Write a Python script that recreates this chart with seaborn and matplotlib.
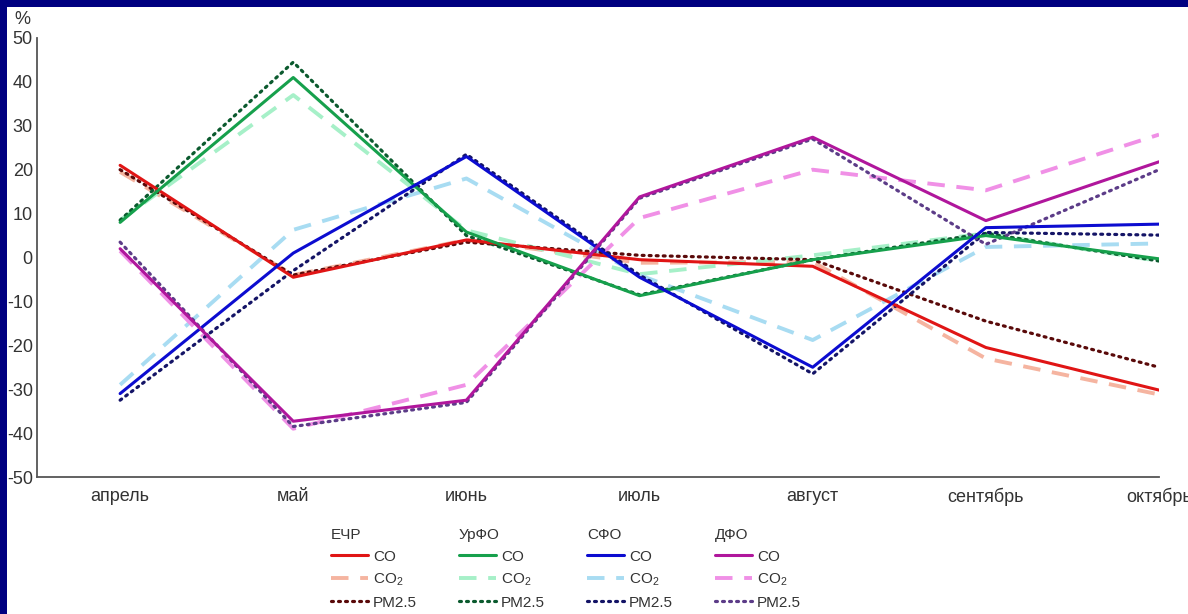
import numpy as np
import pandas as pd
import matplotlib
matplotlib.use("Agg")
import matplotlib.pyplot as plt
from matplotlib.lines import Line2D
from matplotlib.patches import Rectangle
import seaborn as sns

# ── данные ─────────────────────────────────────────────
months = ["апрель", "май", "июнь", "июль", "август", "сентябрь", "октябрь"]
regions = ["ЕЧР", "УрФО", "СФО", "ДФО"]
metrics = ["CO", "CO2", "PM2.5"]

ecr_co = [21, -4.5, 4, -0.5, -2, -20.5, -30.2]
ecr_co2 = [19.5, -4, 4, -1.2, -1, -23, -31.2]
ecr_pm = [20, -4, 3.5, 0.5, -0.5, -14.5, -25]

urfo_co = [8, 41, 5.8, -8.7, -0.5, 5, -0.3]
urfo_co2 = [8.5, 37, 6.2, -3.8, 0.5, 5.5, -0.8]
urfo_pm = [8.5, 44.5, 5, -8.5, -0.5, 5.5, -0.8]

sfo_co = [-31, 1, 23, -4.5, -25, 6.8, 7.6]
sfo_co2 = [-29, 6.3, 18, -4, -18.8, 2.4, 3.2]
sfo_pm = [-32.5, -3, 23.5, -4, -26.5, 5.7, 5.1]

dfo_co = [2, -37.3, -32.5, 13.8, 27.4, 8.4, 21.8]
dfo_co2 = [1.5, -39, -29, 9, 20, 15.3, 28]
dfo_pm = [3.5, -38.5, -33, 13.5, 27, 3, 20]

values = {
    ("ЕЧР", "CO"): ecr_co, ("ЕЧР", "CO2"): ecr_co2, ("ЕЧР", "PM2.5"): ecr_pm,
    ("УрФО", "CO"): urfo_co, ("УрФО", "CO2"): urfo_co2, ("УрФО", "PM2.5"): urfo_pm,
    ("СФО", "CO"): sfo_co, ("СФО", "CO2"): sfo_co2, ("СФО", "PM2.5"): sfo_pm,
    ("ДФО", "CO"): dfo_co, ("ДФО", "CO2"): dfo_co2, ("ДФО", "PM2.5"): dfo_pm,
}

colors = {
    ("ЕЧР", "CO"): "#e01515", ("ЕЧР", "CO2"): "#f5b4a0", ("ЕЧР", "PM2.5"): "#5a0a0a",
    ("УрФО", "CO"): "#16a04c", ("УрФО", "CO2"): "#a6f0c8", ("УрФО", "PM2.5"): "#0b5a2e",
    ("СФО", "CO"): "#0c0cd0", ("СФО", "CO2"): "#a8dcf2", ("СФО", "PM2.5"): "#141466",
    ("ДФО", "CO"): "#b0169c", ("ДФО", "CO2"): "#f090e6", ("ДФО", "PM2.5"): "#5c3c88",
}

rows = []
for (reg, met), vals in values.items():
    for i, v in enumerate(vals):
        rows.append({"region": reg, "metric": met, "x": i, "value": v})
df = pd.DataFrame(rows)

# ── оформление ─────────────────────────────────────────
sns.set_style("white")
plt.rcParams["font.family"] = ["Liberation Sans", "DejaVu Sans"]
plt.rcParams["mathtext.fontset"] = "custom"
plt.rcParams["mathtext.rm"] = "Liberation Sans"
plt.rcParams["axes.unicode_minus"] = False

fig = plt.figure(figsize=(11.88, 6.14), dpi=100)
fig.patch.set_facecolor("#000080")
fig.patches.append(Rectangle((7 / 1188, 0), 1, 1 - 7 / 614, transform=fig.transFigure,
                             facecolor="white", edgecolor="none", zorder=-5))

ax = fig.add_axes([37 / 1188, 1 - 477 / 614, (1159 - 37) / 1188, (477 - 38) / 614])
ax.set_facecolor("none")
ax.set_zorder(2)

styles = {
    "CO2": dict(linestyle=(0, (4.5, 3)), linewidth=2.8, zorder=2),
    "PM2.5": dict(linestyle=(0, (0.6, 1.6)), linewidth=2.3, zorder=3,
                  dash_capstyle="round"),
    "CO": dict(linestyle="-", linewidth=2.2, zorder=4),
}

for met in ["CO2", "PM2.5", "CO"]:
    for reg in regions:
        sub = df[(df["region"] == reg) & (df["metric"] == met)]
        sns.lineplot(data=sub, x="x", y="value", ax=ax, color=colors[(reg, met)],
                     sort=False, legend=False, **styles[met])

ax.set_xlim(-0.48, 6)
ax.set_ylim(-50, 50)
ax.set_yticks(np.arange(-50, 51, 10))
ax.set_xticks(range(len(months)))
ax.set_xticklabels(months)
ax.set_xlabel("")
ax.set_ylabel("")
for s in ["top", "right"]:
    ax.spines[s].set_visible(False)
for s in ["left", "bottom"]:
    ax.spines[s].set_color("#555555")
    ax.spines[s].set_linewidth(1.3)
ax.tick_params(axis="both", direction="in", length=4, width=1, color="#555555",
               labelsize=13, labelcolor="#333333")
ax.tick_params(axis="y", pad=3)
ax.tick_params(axis="x", pad=8)

fig.text(14 / 1188, 1 - 24 / 614, "%", fontsize=13, color="#333333")

# ── легенда: четыре колонки ─────────────────────────────
labels = {"CO": "CO", "CO2": r"CO$_\mathregular{2}$", "PM2.5": "PM2.5"}
legend_x = [331, 459, 587, 715]
for k, reg in enumerate(regions):
    handles = []
    for met in metrics:
        st = styles[met]
        handles.append(Line2D([], [], color=colors[(reg, met)], linestyle=st["linestyle"],
                              linewidth=st["linewidth"],
                              dash_capstyle=st.get("dash_capstyle", "butt")))
    leg = fig.legend(handles, [labels[m] for m in metrics], title=reg,
                     loc="upper left", bbox_to_anchor=(legend_x[k] / 1188, 1 - 528 / 614),
                     bbox_transform=fig.transFigure, frameon=False, fontsize=11,
                     title_fontsize=11, alignment="left", handlelength=2.4,
                     handletextpad=0.35, labelspacing=0.5, borderpad=0,
                     borderaxespad=0)
    for t in leg.get_texts():
        t.set_color("#333333")
    leg.get_title().set_color("#333333")

fig.savefig("out.png", dpi=100, facecolor=fig.get_facecolor())
